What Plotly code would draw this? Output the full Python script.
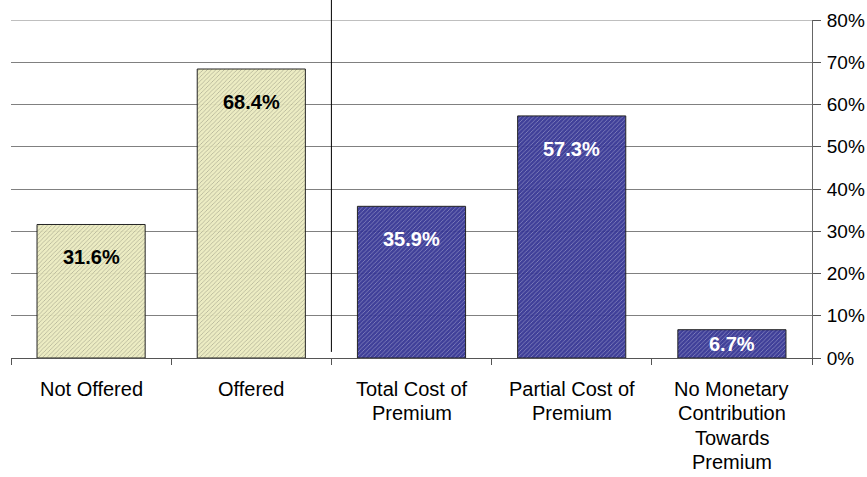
import plotly.graph_objects as go

# Category labels (one list entry per text line) and shares (percent)
categories = [
    ["Not Offered"],
    ["Offered"],
    ["Total Cost of", "Premium"],
    ["Partial Cost of", "Premium"],
    ["No Monetary", "Contribution", "Towards", "Premium"],
]
values = [31.6, 68.4, 35.9, 57.3, 6.7]
value_labels = ["31.6%", "68.4%", "35.9%", "57.3%", "6.7%"]
y_ticks = [0, 10, 20, 30, 40, 50, 60, 70, 80]
y_tick_labels = ["0%", "10%", "20%", "30%", "40%", "50%", "60%", "70%", "80%"]

cat_keys = [" ".join(c) for c in categories]

cream, cream_dark = "#ECECC0", "#D8D8AC"
navy, navy_dark = "#363694", "#2B2B7E"
fills = [cream, cream, navy, navy, navy]
hatch = [cream_dark, cream_dark, navy_dark, navy_dark, navy_dark]
label_colors = ["#000000", "#000000", "#FFFFFF", "#FFFFFF", "#FFFFFF"]

FONT = "Liberation Sans, Arial, sans-serif"
W, H = 867, 477
margin = dict(l=11, r=55, t=20, b=119)
y_max = 80
px_per_unit = (H - margin["t"] - margin["b"]) / y_max

fig = go.Figure()
fig.add_trace(go.Bar(
    x=cat_keys,
    y=values,
    width=0.675,
    marker=dict(
        color=fills,
        line=dict(color="#1a1a1a", width=1),
        pattern=dict(shape="/", fgcolor=hatch, bgcolor=fills, size=3, solidity=0.2),
    ),
    opacity=0.95,
    hoverinfo="skip",
))

# Value labels just below each bar top (centred on short bars)
for key, v, txt, col in zip(cat_keys, values, value_labels, label_colors):
    shift = -min(33, v * px_per_unit / 2)
    fig.add_annotation(
        x=key, y=v, yshift=shift, text=f"<b>{txt}</b>", showarrow=False,
        font=dict(family=FONT, size=20, color=col),
        xanchor="center", yanchor="middle",
    )

# Category labels under the axis, one line per annotation
for key, lines in zip(cat_keys, categories):
    for i, line in enumerate(lines):
        fig.add_annotation(
            x=key, xref="x", y=0, yref="paper", yshift=-(31 + i * 24.3),
            text=line, showarrow=False,
            font=dict(family=FONT, size=20, color="#000000"),
            xanchor="center", yanchor="middle",
        )

# Top gridline at the upper end of the value range
fig.add_shape(
    type="line", xref="paper", yref="y",
    x0=0, x1=1, y0=y_ticks[-1], y1=y_ticks[-1],
    line=dict(color="#808080", width=1), layer="below",
)

# Divider between the offer question and the premium-contribution breakdown
fig.add_shape(
    type="line", xref="x", yref="paper",
    x0=1.5, x1=1.5, y0=0.018, y1=1.06,
    line=dict(color="#000000", width=1),
)

fig.update_layout(
    width=W, height=H,
    margin=margin,
    paper_bgcolor="white",
    plot_bgcolor="white",
    showlegend=False,
    font=dict(family=FONT, size=20, color="#000000"),
)
fig.update_xaxes(
    tickson="boundaries",
    ticks="outside", ticklen=6, tickcolor="#555555",
    showline=True, linecolor="#555555", linewidth=1,
    showgrid=False,
    showticklabels=False,
    range=[-0.5, 4.5],
    automargin=False,
)
fig.update_yaxes(
    side="right",
    range=[0, y_max],
    tickvals=y_ticks, ticktext=y_tick_labels,
    ticks="outside", ticklen=8, tickcolor="#555555",
    ticklabelstandoff=2,
    showline=True, linecolor="#666666", linewidth=1,
    showgrid=True, gridcolor="#808080", gridwidth=1,
    zeroline=False,
    tickfont=dict(size=19),
    automargin=False,
)

fig.write_html("out.html")
